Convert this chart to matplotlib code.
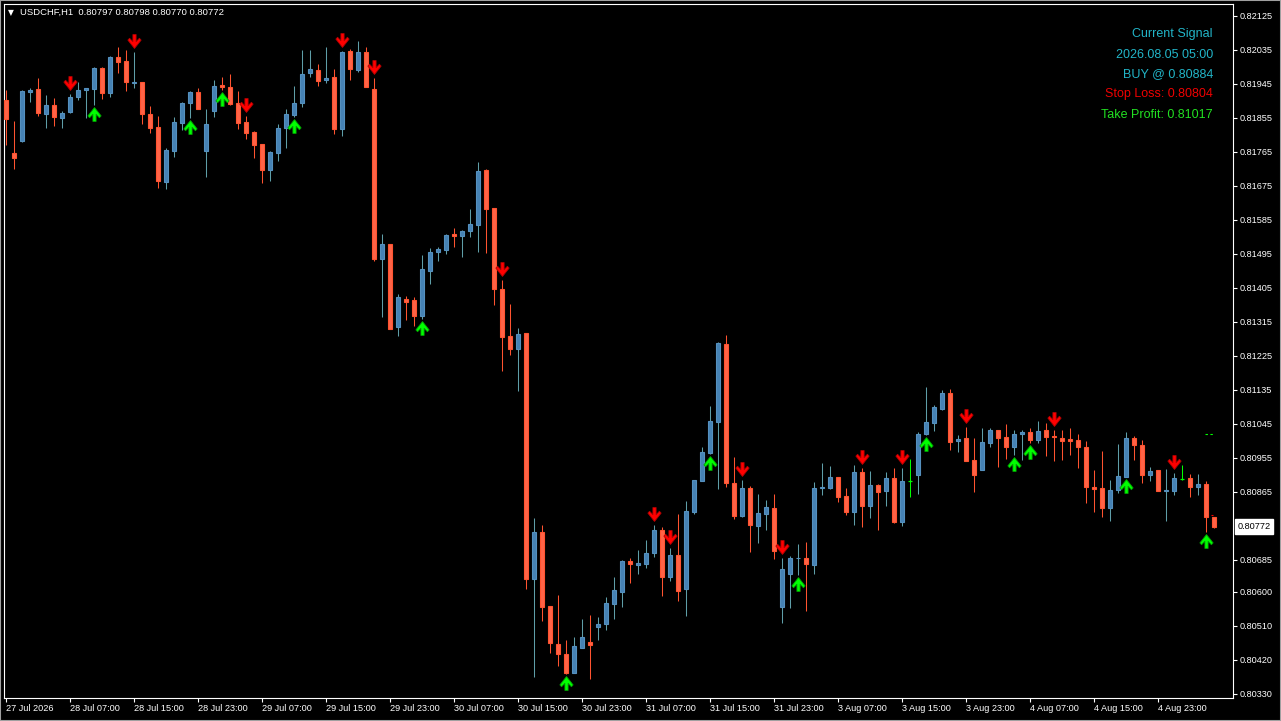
import matplotlib
matplotlib.use("Agg")
import matplotlib.pyplot as plt
from matplotlib.patches import Rectangle
from matplotlib.path import Path
from matplotlib.transforms import offset_copy, blended_transform_factory

### Data
symbol = "USDCHF,H1"
opens = [0.81902, 0.81760, 0.81794, 0.81924, 0.81930, 0.81864, 0.81888, 0.81853, 0.81869, 0.81910,
         0.81928, 0.81932, 0.81985, 0.81919, 0.82015, 0.82004, 0.81947, 0.81948, 0.81864, 0.81829,
         0.81685, 0.81767, 0.81841, 0.81893, 0.81922, 0.81767, 0.81873, 0.81941, 0.81935, 0.81893,
         0.81843, 0.81816, 0.81784, 0.81717, 0.81762, 0.81828, 0.81862, 0.81893, 0.81972, 0.81981,
         0.81954, 0.81962, 0.81826, 0.82031, 0.81981, 0.82029, 0.81931, 0.81482, 0.81520, 0.81300,
         0.81374, 0.81372, 0.81331, 0.81450, 0.81498, 0.81505, 0.81547, 0.81542, 0.81556, 0.81572,
         0.81716, 0.81615, 0.81401, 0.81277, 0.81243, 0.81284, 0.80633, 0.80758, 0.80562, 0.80462,
         0.80435, 0.80386, 0.80452, 0.80467, 0.80506, 0.80514, 0.80567, 0.80600, 0.80681, 0.80672,
         0.80674, 0.80702, 0.80763, 0.80640, 0.80696, 0.80606, 0.80812, 0.80894, 0.80966, 0.81050,
         0.81256, 0.80887, 0.80801, 0.80875, 0.80775, 0.80807, 0.80822, 0.80560, 0.80648, 0.80688,
         0.80688, 0.80671, 0.80874, 0.80875, 0.80904, 0.80853, 0.80812, 0.80916, 0.80828, 0.80883,
         0.80867, 0.80900, 0.80785, 0.80892, 0.80910, 0.81017, 0.81047, 0.81084, 0.81125, 0.80998,
         0.81006, 0.80949, 0.80923, 0.80995, 0.81028, 0.81009, 0.80984, 0.81018, 0.81023, 0.81002,
         0.81028, 0.81012, 0.81007, 0.81005, 0.81002, 0.80984, 0.80877, 0.80875, 0.80821, 0.80869,
         0.80904, 0.81007, 0.80988, 0.80910, 0.80922, 0.80866, 0.80866, 0.80899, 0.80901, 0.80878,
         0.80884, 0.80797]
highs = [0.81928, 0.81846, 0.81928, 0.81933, 0.81959, 0.81915, 0.81906, 0.81872, 0.81917, 0.81950,
         0.81934, 0.81990, 0.81990, 0.82018, 0.82041, 0.82034, 0.82029, 0.81950, 0.81886, 0.81859,
         0.81774, 0.81856, 0.81897, 0.81926, 0.81933, 0.81878, 0.81955, 0.81962, 0.81970, 0.81925,
         0.81859, 0.81819, 0.81785, 0.81767, 0.81837, 0.81877, 0.81939, 0.82034, 0.82034, 0.81997,
         0.82041, 0.81984, 0.82031, 0.82037, 0.82058, 0.82042, 0.81959, 0.81547, 0.81521, 0.81388,
         0.81383, 0.81381, 0.81491, 0.81509, 0.81513, 0.81547, 0.81562, 0.81557, 0.81613, 0.81738,
         0.81719, 0.81615, 0.81425, 0.81362, 0.81298, 0.81285, 0.80794, 0.80777, 0.80563, 0.80591,
         0.80472, 0.80481, 0.80528, 0.80538, 0.80532, 0.80585, 0.80640, 0.80684, 0.80688, 0.80710,
         0.80737, 0.80777, 0.80771, 0.80716, 0.80805, 0.80839, 0.80896, 0.80982, 0.81092, 0.81260,
         0.81280, 0.80957, 0.80896, 0.80880, 0.80859, 0.80843, 0.80859, 0.80690, 0.80694, 0.80726,
         0.80732, 0.80890, 0.80940, 0.80933, 0.80905, 0.80874, 0.80935, 0.80927, 0.80920, 0.80886,
         0.80916, 0.80927, 0.80927, 0.80951, 0.81022, 0.81141, 0.81094, 0.81134, 0.81136, 0.81015,
         0.81035, 0.81006, 0.81033, 0.81033, 0.81029, 0.81043, 0.81028, 0.81028, 0.81034, 0.81052,
         0.81046, 0.81028, 0.81028, 0.81033, 0.81018, 0.80999, 0.80922, 0.80973, 0.80896, 0.80991,
         0.81023, 0.81012, 0.81001, 0.80929, 0.80923, 0.80924, 0.80914, 0.80935, 0.80912, 0.80912,
         0.80893, 0.80798]
lows = [0.81782, 0.81718, 0.81790, 0.81897, 0.81860, 0.81828, 0.81833, 0.81827, 0.81868, 0.81902,
        0.81853, 0.81889, 0.81903, 0.81910, 0.81972, 0.81926, 0.81933, 0.81838, 0.81815, 0.81669,
        0.81665, 0.81751, 0.81822, 0.81853, 0.81878, 0.81699, 0.81857, 0.81928, 0.81888, 0.81825,
        0.81799, 0.81749, 0.81683, 0.81688, 0.81741, 0.81775, 0.81856, 0.81882, 0.81962, 0.81939,
        0.81947, 0.81812, 0.81806, 0.81955, 0.81977, 0.81936, 0.81476, 0.81328, 0.81295, 0.81277,
        0.81319, 0.81304, 0.81321, 0.81415, 0.81476, 0.81494, 0.81513, 0.81487, 0.81540, 0.81500,
        0.81497, 0.81359, 0.81185, 0.81227, 0.81132, 0.80606, 0.80375, 0.80523, 0.80437, 0.80404,
        0.80382, 0.80384, 0.80450, 0.80368, 0.80472, 0.80500, 0.80529, 0.80560, 0.80622, 0.80647,
        0.80662, 0.80693, 0.80590, 0.80629, 0.80575, 0.80537, 0.80805, 0.80893, 0.80965, 0.80872,
        0.80878, 0.80793, 0.80799, 0.80706, 0.80730, 0.80763, 0.80687, 0.80516, 0.80556, 0.80644,
        0.80550, 0.80647, 0.80856, 0.80873, 0.80838, 0.80803, 0.80777, 0.80772, 0.80796, 0.80763,
        0.80828, 0.80783, 0.80774, 0.80852, 0.80859, 0.81015, 0.81026, 0.81081, 0.80975, 0.80971,
        0.80946, 0.80864, 0.80922, 0.80984, 0.80931, 0.80951, 0.80962, 0.80949, 0.80993, 0.80993,
        0.80959, 0.80947, 0.80949, 0.80962, 0.80928, 0.80836, 0.80811, 0.80799, 0.80788, 0.80862,
        0.80903, 0.80949, 0.80889, 0.80894, 0.80866, 0.80788, 0.80857, 0.80896, 0.80852, 0.80857,
        0.80759, 0.80770]
closes = [0.81850, 0.81747, 0.81925, 0.81928, 0.81866, 0.81888, 0.81856, 0.81866, 0.81909, 0.81928,
          0.81933, 0.81985, 0.81919, 0.82015, 0.82003, 0.81948, 0.81950, 0.81864, 0.81828, 0.81688,
          0.81768, 0.81843, 0.81893, 0.81922, 0.81879, 0.81837, 0.81939, 0.81937, 0.81892, 0.81841,
          0.81813, 0.81783, 0.81716, 0.81763, 0.81827, 0.81864, 0.81893, 0.81970, 0.81983, 0.81953,
          0.81960, 0.81826, 0.82029, 0.81984, 0.82028, 0.81937, 0.81481, 0.81520, 0.81296, 0.81379,
          0.81368, 0.81331, 0.81453, 0.81498, 0.81507, 0.81544, 0.81542, 0.81555, 0.81573, 0.81714,
          0.81614, 0.81401, 0.81273, 0.81242, 0.81282, 0.80633, 0.80758, 0.80559, 0.80463, 0.80434,
          0.80384, 0.80456, 0.80480, 0.80458, 0.80515, 0.80569, 0.80605, 0.80681, 0.80673, 0.80676,
          0.80702, 0.80763, 0.80640, 0.80696, 0.80603, 0.80813, 0.80895, 0.80969, 0.81052, 0.81258,
          0.80887, 0.80801, 0.80875, 0.80777, 0.80808, 0.80824, 0.80709, 0.80660, 0.80688, 0.80690,
          0.80673, 0.80874, 0.80877, 0.80904, 0.80852, 0.80812, 0.80916, 0.80828, 0.80883, 0.80865,
          0.80900, 0.80785, 0.80893, 0.80892, 0.81018, 0.81049, 0.81088, 0.81125, 0.80997, 0.81004,
          0.80947, 0.80910, 0.80996, 0.81028, 0.81008, 0.80984, 0.81018, 0.81023, 0.81002, 0.81025,
          0.81010, 0.81009, 0.81000, 0.81000, 0.80984, 0.80878, 0.80873, 0.80822, 0.80869, 0.80906,
          0.81007, 0.80988, 0.80910, 0.80920, 0.80867, 0.80868, 0.80901, 0.80899, 0.80878, 0.80885,
          0.80797, 0.80772]

sell_bars = [8, 16, 30, 42, 46, 62, 81, 83, 92, 97, 107, 112, 120, 131, 146]
buy_bars = [11, 23, 27, 36, 52, 70, 88, 99, 115, 126, 128, 140, 150]

time_labels = ["27 Jul 2026", "28 Jul 07:00", "28 Jul 15:00", "28 Jul 23:00", "29 Jul 07:00",
               "29 Jul 15:00", "29 Jul 23:00", "30 Jul 07:00", "30 Jul 15:00", "30 Jul 23:00",
               "31 Jul 07:00", "31 Jul 15:00", "31 Jul 23:00", "3 Aug 07:00", "3 Aug 15:00",
               "3 Aug 23:00", "4 Aug 07:00", "4 Aug 15:00", "4 Aug 23:00"]
bars_per_label = 8
price_ticks = [0.82125, 0.82035, 0.81945, 0.81855, 0.81765, 0.81675, 0.81585, 0.81495, 0.81405,
               0.81315, 0.81225, 0.81135, 0.81045, 0.80955, 0.80865, 0.80685, 0.80600, 0.80510,
               0.80420, 0.80330]

signal_time = "2026.08.05 05:00"
signal_side = "BUY"
buy_price = 0.80884
stop_loss = 0.80804
take_profit = 0.81017

### Style
BULL_FACE, BULL_EDGE, BULL_WICK = "#4682B4", "#5590BE", "#5F9EA8"
BEAR_FACE, BEAR_EDGE = "#FF6347", "#FF5330"
DOJI = "#00FF00"
FONT = ["Liberation Sans", "DejaVu Sans"]
plt.rcParams["font.family"] = FONT

W, H = 1281, 721
fig = plt.figure(figsize=(W / 100, H / 100), dpi=100, facecolor="black")
ax = fig.add_axes([4 / W, (H - 698) / H, 1229 / W, 694 / H])
ax.set_facecolor("black")

### Candles
n = len(closes)
body_w = 0.52
for i in range(n):
	o, h, l, c = opens[i], highs[i], lows[i], closes[i]
	if c == o:
		ax.vlines(i, l, h, color=DOJI, lw=0.75, zorder=2)
		ax.hlines(c, i - 0.3, i + 0.3, color=DOJI, lw=0.9, zorder=3)
		continue
	if c > o:
		face, edge, wick = BULL_FACE, BULL_EDGE, BULL_WICK
	else:
		face, edge, wick = BEAR_FACE, BEAR_EDGE, BEAR_EDGE
	ax.vlines(i, l, h, color=wick, lw=0.75, zorder=2)
	ax.add_patch(Rectangle((i - body_w / 2, min(o, c)), body_w, abs(c - o),
		facecolor=face, edgecolor=edge, lw=0.8, zorder=3))

### Signal arrows
down_verts = [(-1.5, 6.5), (1.5, 6.5), (1.5, -0.2), (4.6, 3.0), (6.2, 1.3), (0, -6.5),
              (-6.2, 1.3), (-4.6, 3.0), (-1.5, -0.2), (-1.5, 6.5)]
codes = [Path.MOVETO] + [Path.LINETO] * 8 + [Path.CLOSEPOLY]
down_arrow = Path(down_verts, codes)
up_arrow = Path([(x, -y) for x, y in down_verts], codes)

tr_up = offset_copy(ax.transData, fig=fig, y=7.9, units="points")
tr_dn = offset_copy(ax.transData, fig=fig, y=-6.4, units="points")
ax.plot(sell_bars, [highs[i] for i in sell_bars], ls="none", marker=down_arrow, ms=10,
	mfc="#FF0000", mec="#B00000", mew=0.6, transform=tr_up, zorder=5)
ax.plot(buy_bars, [lows[i] for i in buy_bars], ls="none", marker=up_arrow, ms=10,
	mfc="#00FF00", mec="#00A000", mew=0.6, transform=tr_dn, zorder=5)

# short TP / SL marks near the last bar
ax.hlines(take_profit, n - 2.1, n - 1.1, color="#00FF00", lw=0.8, linestyles=(0, (2.2, 2.2)))
ax.hlines(stop_loss, n - 1.4, n - 1.1, color="#FF0000", lw=0.8)

### Axes
ax.set_xlim(-0.25, 153.375)
ax.set_ylim(0.803187, 0.821557)
for s in ax.spines.values():
	s.set_color("white")
	s.set_linewidth(0.8)
ax.yaxis.tick_right()
ax.set_yticks(price_ticks)
ax.set_yticklabels(["%.5f" % v for v in price_ticks])
ax.set_xticks([k * bars_per_label for k in range(len(time_labels))])
ax.set_xticklabels(time_labels, ha="left")
ax.tick_params(axis="y", colors="white", length=3, width=0.8, pad=2, labelsize=6.6)
ax.tick_params(axis="x", colors="white", length=3, width=0.8, pad=1.5, labelsize=6.6)
for t in ax.get_xticklabels() + ax.get_yticklabels():
	t.set_color("white")

# current price box
bt = blended_transform_factory(ax.transAxes, ax.transData)
ax.annotate("%.5f" % closes[-1], xy=(1, closes[-1]), xycoords=bt, xytext=(3.2, 0),
	textcoords="offset points", ha="left", va="center", fontsize=6.6, color="black",
	bbox=dict(boxstyle="square,pad=0.3", fc="white", ec="white"), annotation_clip=False)

### Header text
fig.text(8 / W, 1 - 13 / H, "\u25bc", color="white", fontsize=5.5, va="center",
	family=["DejaVu Sans"])
fig.text(20 / W, 1 - 12.5 / H, "%s  %.5f %.5f %.5f %.5f" % (symbol, opens[-1], highs[-1], lows[-1], closes[-1]),
	color="white", fontsize=6.8, va="center")

lines = [("Current Signal", "#22B5C8"), (signal_time, "#22B5C8"),
	("%s @ %.5f" % (signal_side, buy_price), "#22B5C8"),
	("Stop Loss: %.5f" % stop_loss, "#F00000"),
	("Take Profit: %.5f" % take_profit, "#22E022")]
for k, (txt, col) in enumerate(lines):
	fig.text(1213 / W, 1 - (34.5 + 20 * k) / H, txt, color=col, fontsize=9, ha="right", va="center")

fig.patches.append(Rectangle((0, 0), 1, 1, transform=fig.transFigure, fill=False,
	ec="#A0A0A0", lw=1.5))

fig.savefig("out.png", dpi=100, facecolor="black")
